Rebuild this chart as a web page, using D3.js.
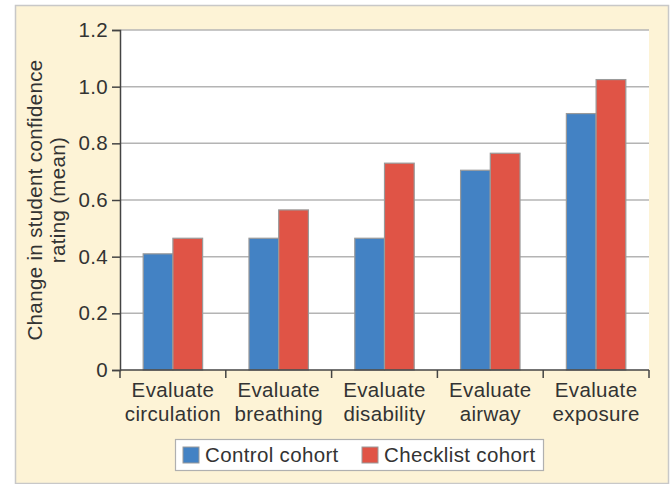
<!DOCTYPE html>
<html><head><meta charset="utf-8">
<script src="https://cdn.jsdelivr.net/npm/d3@7"></script>
<style>body{margin:0;background:#fff}svg{display:block}text{font-family:"Liberation Sans",Arial,sans-serif;fill:#333;letter-spacing:0.35px}</style>
</head><body><svg id="c" width="670" height="484"></svg>
<script>
const categories = [["Evaluate","circulation"],["Evaluate","breathing"],["Evaluate","disability"],["Evaluate","airway"],["Evaluate","exposure"]];
const seriesNames = ["Control cohort","Checklist cohort"];
const control = [0.41, 0.465, 0.465, 0.705, 0.905];
const checklist = [0.465, 0.565, 0.73, 0.765, 1.025];
const yTicks = [0, 0.2, 0.4, 0.6, 0.8, 1.0, 1.2];
const yTickLabels = ["0","0.2","0.4","0.6","0.8","1.0","1.2"];
const colors = ["#4382c4","#e05446"];
const FS = 20.5;

const svg = d3.select("#c");
svg.append("rect").attr("x",15.5).attr("y",5.5).attr("width",653).attr("height",478)
  .attr("fill","#fdf3d6").attr("stroke","#c8c8c8").attr("stroke-width",1.5);

const L=120,R=649,T=30,B=370;
const x = d3.scaleBand().domain(d3.range(categories.length)).range([L,R]).paddingInner(0).paddingOuter(0);
const inner = d3.scaleBand().domain([0,1]).range([0, x.bandwidth()]).paddingOuter(0.78).paddingInner(0);
const y = d3.scaleLinear().domain([0,1.2]).range([B,T]);

svg.append("rect").attr("x",L).attr("y",T).attr("width",R-L).attr("height",B-T).attr("fill","#fff");
svg.append("g").selectAll("line").data(yTicks.slice(1)).join("line")
  .attr("x1",L).attr("x2",R).attr("y1",d=>y(d)).attr("y2",d=>y(d))
  .attr("stroke","#b4b4b4").attr("stroke-width",1.5);

const data = [control, checklist];
data.forEach((vals,s)=>{
  svg.append("g").selectAll("rect").data(vals).join("rect")
    .attr("x",(d,i)=>x(i)+inner(s)).attr("width",inner.bandwidth())
    .attr("y",d=>y(d)).attr("height",d=>B-y(d))
    .attr("fill",colors[s]).attr("stroke","#9a9a9a").attr("stroke-width",1.2);
});

// y axis
const ya = d3.axisLeft(y).tickValues(yTicks).tickFormat((d,i)=>yTickLabels[i]).tickSize(8).tickPadding(4);
const gy = svg.append("g").attr("transform",`translate(${L},0)`).call(ya);
gy.attr("font-size",FS).attr("font-family",null);
gy.select(".domain").attr("stroke","#444").attr("stroke-width",1.5);
gy.selectAll(".tick line").attr("stroke","#444").attr("stroke-width",1.5);
gy.selectAll(".tick text").style("fill","#333");

// x axis
const xb = d3.scaleLinear().domain([0,categories.length]).range([L,R]);
svg.append("line").attr("x1",L).attr("x2",R).attr("y1",B).attr("y2",B).attr("stroke","#444").attr("stroke-width",1.5);
svg.append("g").selectAll("line").data(d3.range(categories.length+1)).join("line")
  .attr("x1",d=>xb(d)).attr("x2",d=>xb(d)).attr("y1",B).attr("y2",B+8).attr("stroke","#444").attr("stroke-width",1.5);
const xl = svg.append("g").selectAll("text").data(categories).join("text")
  .attr("text-anchor","middle").attr("font-size",FS)
  .attr("transform",(d,i)=>`translate(${x(i)+x.bandwidth()/2},0)`);
xl.append("tspan").attr("x",0).attr("y",397).text(d=>d[0]);
xl.append("tspan").attr("x",0).attr("y",421).text(d=>d[1]);

// y label
const yl = svg.append("text").attr("text-anchor","middle").attr("font-size",FS)
  .attr("transform",`translate(0,${(T+B)/2}) rotate(-90)`);
yl.append("tspan").attr("x",0).attr("y",42).text("Change in student confidence");
yl.append("tspan").attr("x",0).attr("y",65).text("rating (mean)");

// legend
const lg = svg.append("g");
lg.append("rect").attr("x",175.5).attr("y",439.5).attr("width",368).attr("height",31)
  .attr("fill","#fff").attr("stroke","#b0b0b0").attr("stroke-width",1.2);
const lx = [183, 362];
seriesNames.forEach((n,i)=>{
  lg.append("rect").attr("x",lx[i]).attr("y",447).attr("width",16).attr("height",16)
    .attr("fill",colors[i]).attr("stroke","#9a9a9a").attr("stroke-width",1);
  lg.append("text").attr("x",lx[i]+22).attr("y",462).attr("font-size",FS).text(n);
});
</script></body></html>
